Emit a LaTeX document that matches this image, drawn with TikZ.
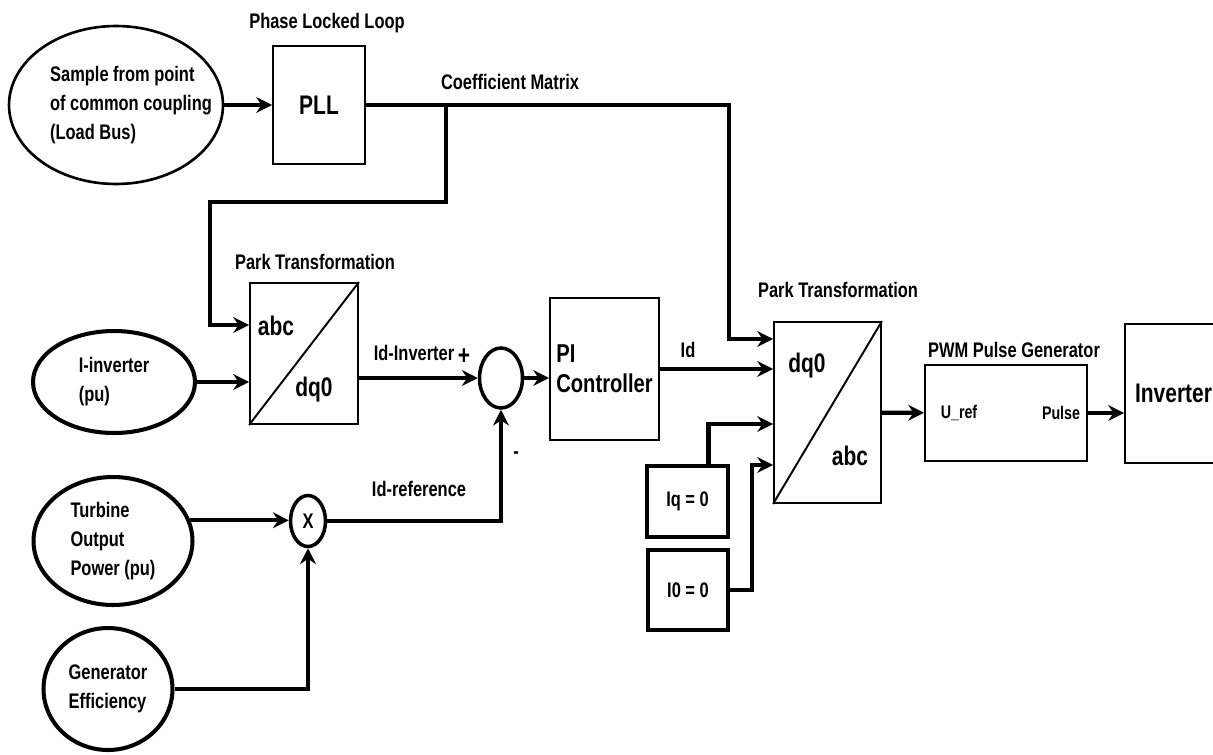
\documentclass[tikz,border=0pt]{standalone}
\usepackage{fontspec}
\setmainfont[FakeStretch=0.78]{Liberation Sans}
\usepackage{tikz}
\usetikzlibrary{arrows.meta, shapes.geometric, positioning, calc}

\begin{document}
\begin{tikzpicture}[x=0.02cm, y=-0.02cm,
	every node/.style={font=\bfseries\fontsize{12}{16.5}\selectfont},
	conn/.style={line width=2.4pt, -{Stealth[length=9pt,width=9pt,inset=3pt]}},
	blk/.style={draw, line width=1.1pt},
	inell/.style={draw, ellipse, line width=2.3pt, align=left, inner sep=1pt},
	sumell/.style={draw, ellipse, line width=2pt, inner sep=0pt},
	constbox/.style={draw, line width=2.6pt},
	bigtxt/.style={font=\bfseries\fontsize{15.3}{17}\selectfont},
	smalltxt/.style={font=\bfseries\fontsize{10.4}{12}\selectfont}
	]
				\useasboundingbox (0,0) rectangle (1213,754);
				\clip (0,0) rectangle (1213,754);
				% inputs
				\node[draw, ellipse, line width=1.5pt, minimum width=4.28cm, minimum height=3.16cm] (src) at (116,105) {};
				\node[align=left] (srctext) at (131,105) {Sample from point\\of common coupling\\(Load Bus)};
				\node[inell, minimum width=3.24cm, minimum height=2.04cm] (iinv) at (114,382) {I-inverter\\(pu)};
				\node[inell, minimum width=3.18cm, minimum height=2.56cm] (turb) at (113,541) {Turbine\\Output\\Power (pu)};
				\node[inell, minimum width=2.58cm, minimum height=2.44cm] (gen) at (108,689) {Generator\\Efficiency};
				% blocks
				\node[blk, bigtxt, minimum width=1.84cm, minimum height=2.36cm] (pll) at (319,105) {PLL};
				\node[blk, minimum width=2.16cm, minimum height=2.82cm] (park1) at (304,353.5) {};
				\draw[line width=1.1pt] (park1.south west) -- (park1.north east);
				\node[bigtxt] (abc1) at (276,326) {abc};
				\node[bigtxt] (dqz1) at (314,390) {dq0};
				\node[sumell, minimum width=0.86cm, minimum height=1.2cm] (sum) at (501,378) {};
				\node[sumell, minimum width=0.7cm, minimum height=1.02cm] (mult) at (308,521) {X};
				\node[blk, align=left, minimum width=2.18cm, minimum height=2.84cm, font=\bfseries\fontsize{14.7}{17}\selectfont] (pi) at (604.5,369) {PI\\Controller};
				\node[blk, minimum width=2.14cm, minimum height=3.62cm] (park2) at (827.5,412.5) {};
				\draw[line width=1.1pt] (park2.south west) -- (park2.north east);
				\node[bigtxt] (dqz2) at (807,366) {dq0};
				\node[bigtxt] (abc2) at (850,456) {abc};
				\node[constbox, minimum width=1.62cm, minimum height=1.42cm] (iq) at (687.5,501.5) {Iq = 0};
				\node[constbox, minimum width=1.6cm, minimum height=1.6cm] (izero) at (688,590) {I0 = 0};
				\node[blk, minimum width=3.24cm, minimum height=1.92cm] (pwm) at (1006,413) {};
				\node[smalltxt] (uref) at (959,413) {U\_ref};
				\node[smalltxt] (pulse) at (1061,413) {Pulse};
				\node[blk, bigtxt, minimum width=1.94cm, minimum height=2.78cm] (inv) at (1173.5,393.5) {Inverter};
				% labels
				\node (pllname) at (327,23) {Phase Locked Loop};
				\node (coefname) at (510,82) {Coefficient Matrix};
				\node (park1name) at (315,262) {Park Transformation};
				\node (park2name) at (838,290) {Park Transformation};
				\node (pwmname) at (1014,350) {PWM Pulse Generator};
				\node (idinvname) at (414,353) {Id-Inverter};
				\node (idrefname) at (419,489) {Id-reference};
				\node (idname) at (688,350) {Id};
				\node[bigtxt] (plus) at (464,357) {+};
				\node (minus) at (516,455) {-};
				% connectors
				\coordinate (tap) at (446,105);
				\coordinate (abend) at (210,202);
				\coordinate (cbend) at (729,339);
				\coordinate (zbend) at (752,465);
				\draw[conn] (src) -- (pll);
				\draw[conn] (pll.east) -| (cbend) -- (cbend -| park2.west);
				\draw[conn] (tap) |- (abend) |- (park1.west |- 0,325);
				\draw[conn] (iinv) -- (iinv -| park1.west);
				\draw[conn] (park1.east |- sum) -- (sum);
				\draw[conn] (sum) -- (sum -| pi.west);
				\draw[conn] (pi.east) -- (pi.east -| park2.west);
				\draw[conn] ([xshift=0.42cm]iq.north) |- (park2.west |- 0,424);
				\draw[conn] (izero.east) -| (zbend) -- (zbend -| park2.west);
				\draw[conn] (park2) -- (pwm);
				\draw[conn] (pwm.east) -- (pwm.east -| inv.west);
				\draw[conn] (turb.15) -- (turb.15 -| mult.west);
				\draw[conn] (gen) -| (mult);
				\draw[conn] (mult) -| (sum);
			\end{tikzpicture}
\end{document}
